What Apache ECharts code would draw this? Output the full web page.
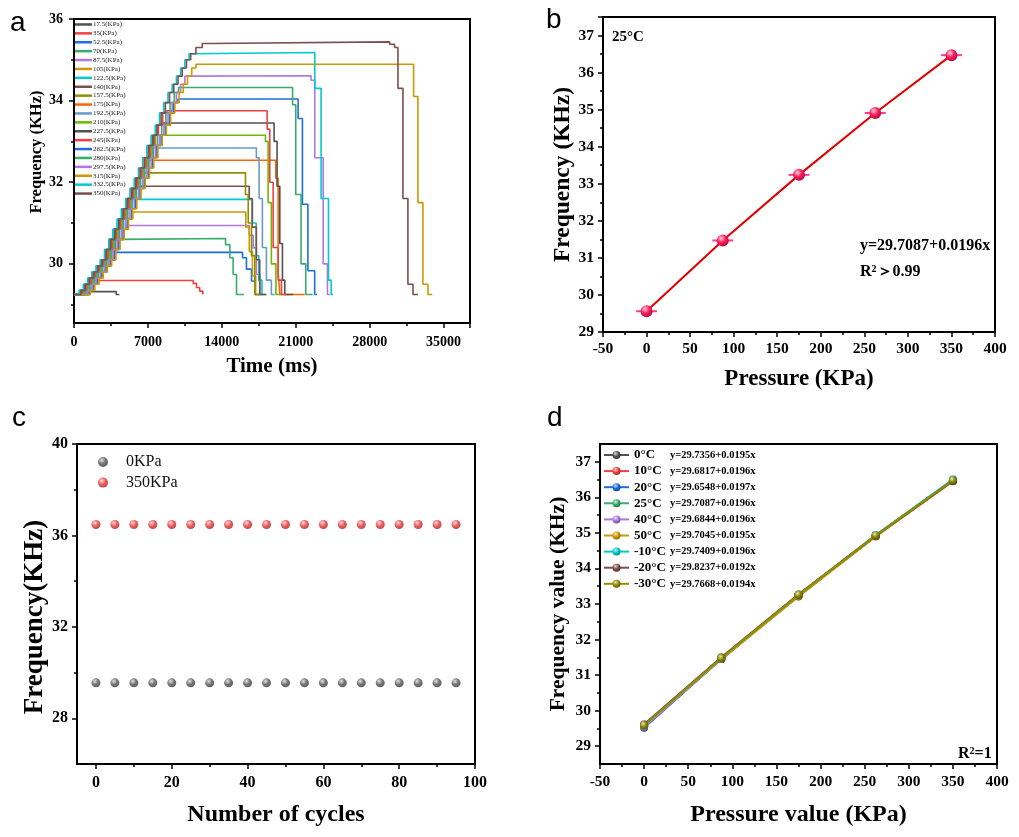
<!DOCTYPE html>
<html>
<head>
<meta charset="utf-8">
<script src="https://cdn.jsdelivr.net/npm/echarts@6/dist/echarts.min.js"></script>
<style>
  html, body { margin: 0; padding: 0; background: #fff; }
  #chart { width: 1019px; height: 837px; }
</style>
</head>
<body>
<div id="chart"></div>
<script>
// ---------- panel a: frequency vs time for each pressure step ----------
const pressLabels = ['17.5(KPa)', '35(KPa)', '52.5(KPa)', '70(KPa)', '87.5(KPa)', '105(KPa)', '122.5(KPa)',
  '140(KPa)', '157.5(KPa)', '175(KPa)', '192.5(KPa)', '210(KPa)', '227.5(KPa)', '245(KPa)', '262.5(KPa)',
  '280(KPa)', '297.5(KPa)', '315(KPa)', '332.5(KPa)', '350(KPa)'];
const pressColors = ['#515151', '#F14040', '#1A6FDF', '#37AD6B', '#B177DE', '#CC9900', '#00CBCC', '#7D4E4E',
  '#8E8E00', '#FB6501', '#6699CC', '#6FB802', '#515151', '#F14040', '#1A6FDF', '#37AD6B', '#B177DE',
  '#CC9900', '#00CBCC', '#7D4E4E'];
const baseFreq = 29.25;
const plateau = [29.32, 29.59, 30.28, 30.62, 30.94, 31.27, 31.58, 31.90, 32.23, 32.54, 32.84, 33.15, 33.45,
  33.75, 34.04, 34.32, 34.61, 34.89, 35.18, 35.44];
// shared loading staircase (read along the middle of the bundle)
const rampT = [600, 1000, 1400, 1800, 2200, 2600, 3000, 3400, 3800, 4200, 4600, 5000, 5400, 5800, 6200, 6600,
  7000, 7400, 7800, 8200, 8600, 9000, 9400, 9800, 10200, 10600, 11000, 11400, 11900, 12500, 13200];
const rampF = [29.25, 29.35, 29.5, 29.65, 29.8, 29.95, 30.1, 30.35, 30.6, 30.85, 31.1, 31.35, 31.6, 31.85, 32.1,
  32.35, 32.6, 32.9, 33.15, 33.4, 33.7, 33.95, 34.2, 34.4, 34.6, 34.8, 35.0, 35.15, 35.3, 35.4, 35.46];
const riseShift = [-250, -200, 450, 100, 300, 550, -500, -350, -50, 0, 0, -100, -250, -200, 450, 100, 300, 550, -500, -350];
const fallT = [
  [4000],
  [11290, 11600, 11900, 12200],
  [15960, 16330, 16810, 17120],
  [14350, 14760, 15070, 15390],
  [16590, 16970, 17270, 17600],
  [16270, 16600, 16900, 17200],
  [16900, 17250, 17500, 17800],
  [16590, 16870, 17270, 17590],
  [16240, 16500, 16810, 17120],
  [19110, 19330, 19490],
  [17270, 17530, 17840, 18220, 18690],
  [18130, 18380, 18690, 19120],
  [18950, 19230, 19490, 19740, 19960],
  [18290, 18540, 18860, 19330, 19650],
  [21220, 21630, 22150, 22790],
  [20700, 21000, 21500, 21950],
  [22450, 22800, 23600, 24000],
  [32160, 32570, 33040, 33520],
  [22800, 23400, 24100, 24350],
  [29890, 30360, 30680, 31150, 31620, 32100]
];
const fallF = [
  [29.25],
  [29.52, 29.42, 29.33, 29.25],
  [30.15, 29.87, 29.58, 29.25],
  [30.47, 30.15, 29.74, 29.25],
  [30.7, 30.39, 29.74, 29.25],
  [30.9, 30.3, 29.7, 29.25],
  [31.0, 30.2, 29.6, 29.25],
  [31.6, 30.9, 30.1, 29.25],
  [31.7, 31.0, 30.2, 29.25],
  [32.1, 29.8, 29.25],
  [32.6, 31.6, 30.4, 29.6, 29.25],
  [33.0, 31.5, 30.0, 29.25],
  [33.0, 31.9, 30.5, 29.6, 29.25],
  [33.3, 32.0, 30.4, 29.6, 29.25],
  [33.56, 31.46, 29.83, 29.25],
  [33.9, 31.7, 30.0, 29.25],
  [34.5, 32.6, 30.0, 29.25],
  [34.1, 31.5, 29.5, 29.25],
  [34.3, 31.6, 29.6, 29.25],
  [35.38, 35.3, 34.3, 31.6, 29.5, 29.25]
];
const endT = [4300, 12250, 17590, 16080, 17910, 17600, 18200, 18220, 17590, 21860, 19010, 19650, 20750, 20120,
  23000, 22600, 24220, 33930, 24540, 32570];
const aFreqTicks = [30, 32, 34, 36];
const aFreqMinor = [29, 31, 33, 35];

// ---------- panel b: 25°C calibration ----------
const bPressure = [0, 87.5, 175, 262.5, 350];
const bFreq = [29.56, 31.47, 33.24, 34.91, 36.47];
const bErr = [12, 12, 12, 12, 12];

// ---------- panel c: cycling stability ----------
const cycles = [0, 5, 10, 15, 20, 25, 30, 35, 40, 45, 50, 55, 60, 65, 70, 75, 80, 85, 90, 95];
const cFreq0 = [29.55, 29.55, 29.55, 29.55, 29.55, 29.55, 29.55, 29.55, 29.55, 29.55,
  29.55, 29.55, 29.55, 29.55, 29.55, 29.55, 29.55, 29.55, 29.55, 29.55];
const cFreq350 = [36.48, 36.48, 36.48, 36.48, 36.48, 36.48, 36.48, 36.48, 36.48, 36.48,
  36.48, 36.48, 36.48, 36.48, 36.48, 36.48, 36.48, 36.48, 36.48, 36.48];
const cFreqTicks = [28, 32, 36, 40];
const cFreqMinor = [30, 34, 38];
const cCycleTicks = [0, 20, 40, 60, 80, 100];
const cCycleMinor = [10, 30, 50, 70, 90];

// ---------- panel d: temperatures ----------
const dPressure = [0, 87.5, 175, 262.5, 350];
const tempLabels = ['0°C', '10°C', '20°C', '25°C', '40°C', '50°C', '-10°C', '-20°C', '-30°C'];
const tempColors = ['#515151', '#F14040', '#1A6FDF', '#37AD6B', '#B177DE', '#CC9900', '#00CBCC', '#7D4E4E', '#8E8E00'];
const tempFits = ['y=29.7356+0.0195x', 'y=29.6817+0.0196x', 'y=29.6548+0.0197x', 'y=29.7087+0.0196x',
  'y=29.6844+0.0196x', 'y=29.7045+0.0195x', 'y=29.7409+0.0196x', 'y=29.8237+0.0192x', 'y=29.7668+0.0194x'];
const tempFreq = [
  [29.56, 31.45, 33.22, 34.91, 36.46],
  [29.55, 31.47, 33.25, 34.92, 36.48],
  [29.52, 31.45, 33.26, 34.93, 36.50],
  [29.56, 31.47, 33.24, 34.91, 36.47],
  [29.54, 31.46, 33.23, 34.91, 36.47],
  [29.58, 31.45, 33.21, 34.90, 36.45],
  [29.60, 31.48, 33.26, 34.94, 36.49],
  [29.62, 31.50, 33.27, 34.92, 36.46],
  [29.59, 31.48, 33.26, 34.93, 36.48]
];
const dFreqTicks = [29, 30, 31, 32, 33, 34, 35, 36, 37];
const dFreqMinor = [29.5, 30.5, 31.5, 32.5, 33.5, 34.5, 35.5, 36.5];

const SERIF = 'Liberation Serif';

// step curve: baseline -> shared staircase up to the plateau -> unloading steps
function stepCurve(i) {
  const pts = [[0, baseFreq]];
  for (let k = 0; k < rampT.length; k++) {
    pts.push([rampT[k] + riseShift[i], Math.min(rampF[k], plateau[i])]);
    if (rampF[k] >= plateau[i]) break;
  }
  fallT[i].forEach((t, j) => pts.push([t, fallF[i][j]]));
  pts.push([endT[i], baseFreq]);
  return pts;
}

function mix(hex, to, t) {
  const n = parseInt(hex.slice(1), 16);
  const m = v => Math.round(v + (to - v) * t);
  return `rgb(${m((n >> 16) & 255)},${m((n >> 8) & 255)},${m(n & 255)})`;
}
function sphere(hex) {
  return new echarts.graphic.RadialGradient(0.38, 0.32, 0.72, [
    { offset: 0, color: mix(hex, 255, 0.8) },
    { offset: 0.5, color: hex },
    { offset: 1, color: mix(hex, 0, 0.35) }
  ]);
}

function axis(grid, pos, min, max, fs, margin, opts) {
  const o = opts || {};
  const a = {
    type: 'value', gridIndex: grid, position: pos, min, max,
    axisLine: { show: true, onZero: false, lineStyle: { color: '#000', width: 2 } },
    axisTick: { show: true, length: 5, lineStyle: { color: '#000', width: 1.5 } },
    axisLabel: {
      color: '#000', fontFamily: SERIF, fontWeight: 'bold', fontSize: fs, margin,
      showMaxLabel: o.showMax !== false, formatter: v => String(v)
    },
    splitLine: { show: false },
    name: o.name, nameLocation: 'middle', nameGap: o.nameGap,
    nameTextStyle: { color: '#000', fontFamily: SERIF, fontWeight: 'bold', fontSize: o.nameSize, padding: o.namePad || 0 }
  };
  if (o.interval) {
    a.interval = o.interval;
    a.minorTick = { show: true, splitNumber: 2, length: 3, lineStyle: { color: '#000', width: 1.5 } };
  }
  if (o.ticks) {
    a.axisLabel.customValues = o.ticks;
    a.axisTick.customValues = o.ticks;
  }
  return a;
}
function minorAxis(grid, pos, min, max, ticks) {
  return {
    type: 'value', gridIndex: grid, position: pos, min, max,
    axisLine: { show: false, onZero: false }, axisLabel: { show: false }, splitLine: { show: false },
    axisTick: { show: true, length: 3, customValues: ticks, lineStyle: { color: '#000', width: 1.5 } }
  };
}

const frame = { show: true, borderColor: '#000', borderWidth: 2, outerBoundsMode: 'none' };

const chart = echarts.init(document.getElementById('chart'));

const option = {
  animation: false,
  backgroundColor: '#fff',
  grid: [
    Object.assign({ left: 74, top: 19, width: 396, height: 304 }, frame),
    Object.assign({ left: 603, top: 17, width: 392, height: 315 }, frame),
    Object.assign({ left: 77, top: 444, width: 398, height: 320 }, frame),
    Object.assign({ left: 600, top: 444, width: 397, height: 320 }, frame)
  ],
  xAxis: [
    axis(0, 'bottom', 0, 37500, 14, 12, { interval: 7000, showMax: false, name: 'Time (ms)', nameGap: 33, nameSize: 21 }),
    axis(1, 'bottom', -50, 400, 15.5, 9, { interval: 50, name: 'Pressure (KPa)', nameGap: 36, nameSize: 23 }),
    axis(2, 'bottom', -5, 100, 16, 11, { ticks: cCycleTicks, name: 'Number of cycles', nameGap: 39, nameSize: 24 }),
    axis(3, 'bottom', -50, 400, 15.5, 10, { interval: 50, name: 'Pressure value (KPa)', nameGap: 39, nameSize: 24 }),
    minorAxis(2, 'bottom', -5, 100, cCycleMinor)
  ],
  yAxis: [
    axis(0, 'left', 28.55, 36, 14, 11, { ticks: aFreqTicks, name: 'Frequency (KHz)', nameGap: 29, nameSize: 16.5, namePad: [0, 0, 0, 38] }),
    axis(1, 'left', 29, 37.5, 15.5, 9, { interval: 1, showMax: false, name: 'Frequency (KHz)', nameGap: 27, nameSize: 23.5 }),
    axis(2, 'left', 26, 40, 16, 9, { ticks: cFreqTicks, name: 'Frequency(KHz)', nameGap: 26, nameSize: 27, namePad: [0, 26, 0, 0] }),
    axis(3, 'left', 28.5, 37.5, 15.5, 9, { ticks: dFreqTicks, name: 'Frequency value (KHz)', nameGap: 31, nameSize: 21.5 }),
    minorAxis(0, 'left', 28.55, 36, aFreqMinor),
    minorAxis(2, 'left', 26, 40, cFreqMinor),
    minorAxis(3, 'left', 28.5, 37.5, dFreqMinor)
  ],
  legend: [
    {
      data: pressLabels.map(name => ({ name, icon: 'rect' })),
      orient: 'vertical', left: 75, top: 20, padding: 0, selectedMode: false,
      itemWidth: 17, itemHeight: 2.5, itemGap: 0,
      textStyle: { fontFamily: SERIF, fontSize: 7, lineHeight: 8.9, color: '#222', padding: [0, 0, 0, -4] }
    },
    {
      data: ['0KPa', '350KPa'], orient: 'vertical', left: 98, top: 454, padding: 0, selectedMode: false,
      itemWidth: 10, itemHeight: 10, itemGap: 4.6,
      textStyle: { fontFamily: SERIF, fontSize: 16, lineHeight: 16, color: '#111', padding: [0, 0, 0, 13] }
    },
    {
      data: tempLabels, orient: 'vertical', left: 603, top: 448, padding: 0, selectedMode: false,
      itemWidth: 25, itemHeight: 10, itemGap: 2.1,
      formatter: name => `{n|${name}}{e|${tempFits[tempLabels.indexOf(name)]}}`,
      textStyle: {
        fontFamily: SERIF, fontWeight: 'bold', color: '#000', lineHeight: 14,
        rich: {
          n: { fontFamily: SERIF, fontWeight: 'bold', fontSize: 13, width: 36, color: '#000' },
          e: { fontFamily: SERIF, fontWeight: 'bold', fontSize: 10.5, color: '#000' }
        }
      }
    }
  ],
  series: [
    ...pressLabels.map((name, i) => ({
      type: 'line', name, xAxisIndex: 0, yAxisIndex: 0, step: 'end', symbol: 'none',
      data: stepCurve(i), lineStyle: { width: 1.6, color: pressColors[i] },
      itemStyle: { color: pressColors[i] }, emphasis: { disabled: true }, z: 2
    })),
    {
      type: 'custom', name: 'err', xAxisIndex: 1, yAxisIndex: 1, z: 3,
      data: bPressure.map((p, i) => [p, bFreq[i], bErr[i]]),
      encode: { x: 0, y: 1 },
      renderItem: (params, api) => {
        const l = api.coord([api.value(0) - api.value(2), api.value(1)]);
        const r = api.coord([api.value(0) + api.value(2), api.value(1)]);
        return { type: 'line', shape: { x1: l[0], y1: l[1], x2: r[0], y2: r[1] }, style: { stroke: '#ff3a96', lineWidth: 2 } };
      }
    },
    {
      type: 'line', name: '25°C fit', xAxisIndex: 1, yAxisIndex: 1, z: 4,
      data: bPressure.map((p, i) => [p, bFreq[i]]),
      symbol: 'circle', symbolSize: 12,
      lineStyle: { color: '#e00000', width: 2 }, itemStyle: { color: sphere('#ff1a5a') },
      emphasis: { disabled: true }
    },
    {
      type: 'scatter', name: '0KPa', xAxisIndex: 2, yAxisIndex: 2, symbolSize: 9,
      data: cycles.map((c, i) => [c, cFreq0[i]]), itemStyle: { color: sphere('#555555') }
    },
    {
      type: 'scatter', name: '350KPa', xAxisIndex: 2, yAxisIndex: 2, symbolSize: 9,
      data: cycles.map((c, i) => [c, cFreq350[i]]), itemStyle: { color: sphere('#f03535') }
    },
    ...tempLabels.map((name, i) => ({
      type: 'line', name, xAxisIndex: 3, yAxisIndex: 3,
      data: dPressure.map((p, j) => [p, tempFreq[i][j]]),
      symbol: 'circle', symbolSize: 8,
      lineStyle: { width: 2, color: tempColors[i] }, itemStyle: { color: sphere(tempColors[i]) },
      emphasis: { disabled: true }
    }))
  ],
  graphic: [
    { type: 'text', x: 10, y: 23, style: { text: 'a', font: '28px "Liberation Sans"', fill: '#000', verticalAlign: 'middle' } },
    { type: 'text', x: 546, y: 20, style: { text: 'b', font: '28px "Liberation Sans"', fill: '#000', verticalAlign: 'middle' } },
    { type: 'text', x: 12, y: 418, style: { text: 'c', font: '28px "Liberation Sans"', fill: '#000', verticalAlign: 'middle' } },
    { type: 'text', x: 547, y: 418, style: { text: 'd', font: '28px "Liberation Sans"', fill: '#000', verticalAlign: 'middle' } },
    { type: 'text', x: 612, y: 37, style: { text: '25°C', font: 'bold 15px "Liberation Serif"', fill: '#000', verticalAlign: 'middle' } },
    { type: 'text', x: 860, y: 246, style: { text: 'y=29.7087+0.0196x', font: 'bold 16px "Liberation Serif"', fill: '#000', verticalAlign: 'middle' } },
    {
      type: 'text', x: 860, y: 272,
      style: {
        text: '{r|R}{s|2}{r|＞0.99}', verticalAlign: 'middle', fill: '#000',
        rich: {
          r: { fontFamily: SERIF, fontWeight: 'bold', fontSize: 16, fill: '#000' },
          s: { fontFamily: SERIF, fontWeight: 'bold', fontSize: 10, fill: '#000', verticalAlign: 'top' }
        }
      }
    },
    {
      type: 'text', x: 958, y: 754,
      style: {
        text: '{r|R}{s|2}{r|=1}', verticalAlign: 'middle', fill: '#000',
        rich: {
          r: { fontFamily: SERIF, fontWeight: 'bold', fontSize: 16, fill: '#000' },
          s: { fontFamily: SERIF, fontWeight: 'bold', fontSize: 10, fill: '#000', verticalAlign: 'top' }
        }
      }
    }
  ]
};

chart.setOption(option);
</script>
</body>
</html>
